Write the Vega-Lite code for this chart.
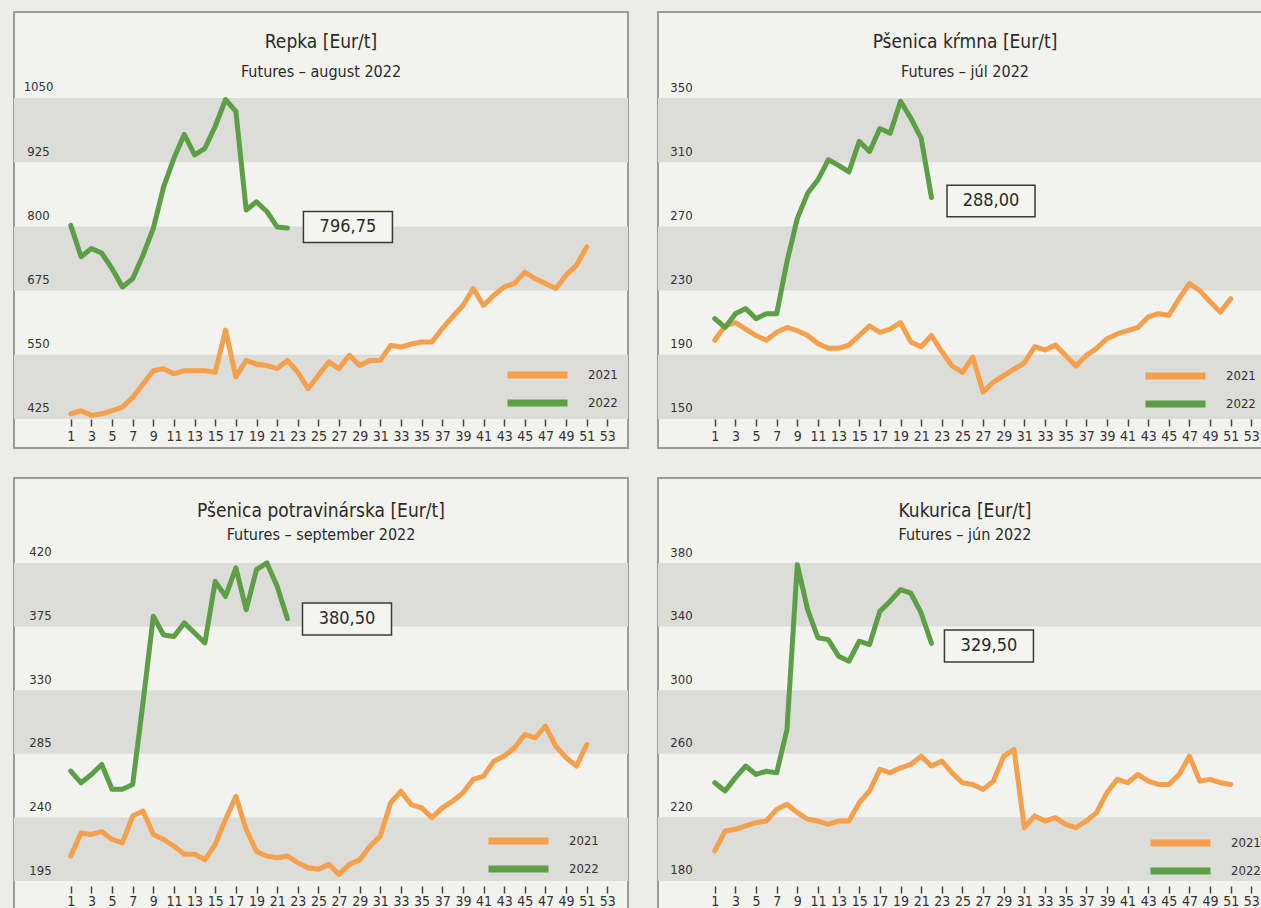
{
  "$schema": "https://vega.github.io/schema/vega-lite/v6.json",
  "background": "#ecece8",
  "padding": {"left": 13, "top": 11, "right": 0, "bottom": 0},
  "config": {
    "font": "Liberation Sans Narrow, DejaVu Sans Condensed, Roboto, sans-serif",
    "title": {"fontSize": 19, "fontWeight": "normal", "color": "#2a2a2a", "subtitleFontSize": 16, "subtitleColor": "#2a2a2a", "subtitleFontWeight": "normal", "anchor": "middle", "frame": "group"},
    "axis": {"labelFontSize": 13, "labelColor": "#333333", "grid": false, "domain": false, "title": null, "labelOverlap": false, "labelFlush": false, "tickCount": 100, "format": "d", "zindex": 1},
    "legend": {"labelFontSize": 13, "labelColor": "#333333", "title": null, "orient": "none", "symbolType": "stroke", "symbolSize": 3600, "symbolStrokeWidth": 7, "clipHeight": 22, "rowPadding": 6, "labelOffset": 17, "padding": 0},
    "view": {"stroke": "#9a9a96", "strokeWidth": 2, "fill": "#f2f2ee"}
  },
  "datasets": {
    "repka": [
      {"week":1,"year":"2021","price":435},{"week":2,"year":"2021","price":441},{"week":3,"year":"2021","price":432},{"week":4,"year":"2021","price":435},{"week":5,"year":"2021","price":441},{"week":6,"year":"2021","price":448},{"week":7,"year":"2021","price":467},{"week":8,"year":"2021","price":493},{"week":9,"year":"2021","price":519},{"week":10,"year":"2021","price":523},
      {"week":11,"year":"2021","price":513},{"week":12,"year":"2021","price":519},{"week":13,"year":"2021","price":519},{"week":14,"year":"2021","price":519},{"week":15,"year":"2021","price":516},{"week":16,"year":"2021","price":598},{"week":17,"year":"2021","price":507},{"week":18,"year":"2021","price":539},{"week":19,"year":"2021","price":532},{"week":20,"year":"2021","price":529},
      {"week":21,"year":"2021","price":523},{"week":22,"year":"2021","price":539},{"week":23,"year":"2021","price":516},{"week":24,"year":"2021","price":484},{"week":25,"year":"2021","price":510},{"week":26,"year":"2021","price":536},{"week":27,"year":"2021","price":523},{"week":28,"year":"2021","price":549},{"week":29,"year":"2021","price":529},{"week":30,"year":"2021","price":539},
      {"week":31,"year":"2021","price":539},{"week":32,"year":"2021","price":568},{"week":33,"year":"2021","price":565},{"week":34,"year":"2021","price":571},{"week":35,"year":"2021","price":575},{"week":36,"year":"2021","price":575},{"week":37,"year":"2021","price":601},{"week":38,"year":"2021","price":624},{"week":39,"year":"2021","price":646},{"week":40,"year":"2021","price":679},
      {"week":41,"year":"2021","price":646},{"week":42,"year":"2021","price":666},{"week":43,"year":"2021","price":682},{"week":44,"year":"2021","price":689},{"week":45,"year":"2021","price":711},{"week":46,"year":"2021","price":698},{"week":47,"year":"2021","price":689},{"week":48,"year":"2021","price":679},{"week":49,"year":"2021","price":705},{"week":50,"year":"2021","price":724},{"week":51,"year":"2021","price":760},
      {"week":1,"year":"2022","price":802},{"week":2,"year":"2022","price":741},{"week":3,"year":"2022","price":757},{"week":4,"year":"2022","price":748},{"week":5,"year":"2022","price":718},{"week":6,"year":"2022","price":682},{"week":7,"year":"2022","price":698},{"week":8,"year":"2022","price":744},{"week":9,"year":"2022","price":796},{"week":10,"year":"2022","price":877},
      {"week":11,"year":"2022","price":933},{"week":12,"year":"2022","price":979},{"week":13,"year":"2022","price":939},{"week":14,"year":"2022","price":952},{"week":15,"year":"2022","price":995},{"week":16,"year":"2022","price":1047},{"week":17,"year":"2022","price":1024},{"week":18,"year":"2022","price":832},{"week":19,"year":"2022","price":848},{"week":20,"year":"2022","price":829},{"week":21,"year":"2022","price":799},{"week":22,"year":"2022","price":796.75}
    ],
    "psenicaKrmna": [
      {"week":1,"year":"2021","price":199},{"week":2,"year":"2021","price":208},{"week":3,"year":"2021","price":210},{"week":4,"year":"2021","price":206},{"week":5,"year":"2021","price":202},{"week":6,"year":"2021","price":199},{"week":7,"year":"2021","price":204},{"week":8,"year":"2021","price":207},{"week":9,"year":"2021","price":205},{"week":10,"year":"2021","price":202},
      {"week":11,"year":"2021","price":197},{"week":12,"year":"2021","price":194},{"week":13,"year":"2021","price":194},{"week":14,"year":"2021","price":196},{"week":15,"year":"2021","price":202},{"week":16,"year":"2021","price":208},{"week":17,"year":"2021","price":204},{"week":18,"year":"2021","price":206},{"week":19,"year":"2021","price":210},{"week":20,"year":"2021","price":198},
      {"week":21,"year":"2021","price":195},{"week":22,"year":"2021","price":202},{"week":23,"year":"2021","price":192},{"week":24,"year":"2021","price":183},{"week":25,"year":"2021","price":179},{"week":26,"year":"2021","price":188.6},{"week":27,"year":"2021","price":166.7},{"week":28,"year":"2021","price":173},{"week":29,"year":"2021","price":177},{"week":30,"year":"2021","price":181},
      {"week":31,"year":"2021","price":185},{"week":32,"year":"2021","price":195},{"week":33,"year":"2021","price":193},{"week":34,"year":"2021","price":196},{"week":35,"year":"2021","price":189.6},{"week":36,"year":"2021","price":183},{"week":37,"year":"2021","price":189.6},{"week":38,"year":"2021","price":194},{"week":39,"year":"2021","price":200},{"week":40,"year":"2021","price":203},
      {"week":41,"year":"2021","price":205},{"week":42,"year":"2021","price":207},{"week":43,"year":"2021","price":213.6},{"week":44,"year":"2021","price":215.6},{"week":45,"year":"2021","price":214.6},{"week":46,"year":"2021","price":225},{"week":47,"year":"2021","price":234.4},{"week":48,"year":"2021","price":230},{"week":49,"year":"2021","price":223},{"week":50,"year":"2021","price":216.7},{"week":51,"year":"2021","price":225},
      {"week":1,"year":"2022","price":212.5},{"week":2,"year":"2022","price":207},{"week":3,"year":"2022","price":215.6},{"week":4,"year":"2022","price":218.8},{"week":5,"year":"2022","price":212.5},{"week":6,"year":"2022","price":215.6},{"week":7,"year":"2022","price":215.6},{"week":8,"year":"2022","price":248},{"week":9,"year":"2022","price":275},{"week":10,"year":"2022","price":290.6},
      {"week":11,"year":"2022","price":299},{"week":12,"year":"2022","price":311.5},{"week":13,"year":"2022","price":308},{"week":14,"year":"2022","price":304},{"week":15,"year":"2022","price":323},{"week":16,"year":"2022","price":316.7},{"week":17,"year":"2022","price":331},{"week":18,"year":"2022","price":328},{"week":19,"year":"2022","price":348},{"week":20,"year":"2022","price":337.5},{"week":21,"year":"2022","price":325},{"week":22,"year":"2022","price":288}
    ],
    "psenicaPotr": [
      {"week":1,"year":"2021","price":212.7},{"week":2,"year":"2021","price":229},{"week":3,"year":"2021","price":228},{"week":4,"year":"2021","price":230},{"week":5,"year":"2021","price":224.4},{"week":6,"year":"2021","price":222},{"week":7,"year":"2021","price":241},{"week":8,"year":"2021","price":244.5},{"week":9,"year":"2021","price":228},{"week":10,"year":"2021","price":224.4},
      {"week":11,"year":"2021","price":219.7},{"week":12,"year":"2021","price":214},{"week":13,"year":"2021","price":214},{"week":14,"year":"2021","price":210},{"week":15,"year":"2021","price":221},{"week":16,"year":"2021","price":238.6},{"week":17,"year":"2021","price":255},{"week":18,"year":"2021","price":231.5},{"week":19,"year":"2021","price":216},{"week":20,"year":"2021","price":212.7},
      {"week":21,"year":"2021","price":211.5},{"week":22,"year":"2021","price":212.7},{"week":23,"year":"2021","price":208},{"week":24,"year":"2021","price":204.4},{"week":25,"year":"2021","price":203.3},{"week":26,"year":"2021","price":206.8},{"week":27,"year":"2021","price":199.7},{"week":28,"year":"2021","price":206.8},{"week":29,"year":"2021","price":210},{"week":30,"year":"2021","price":219.7},
      {"week":31,"year":"2021","price":226.8},{"week":32,"year":"2021","price":250.4},{"week":33,"year":"2021","price":258.6},{"week":34,"year":"2021","price":249},{"week":35,"year":"2021","price":246.8},{"week":36,"year":"2021","price":239.8},{"week":37,"year":"2021","price":246.8},{"week":38,"year":"2021","price":251.5},{"week":39,"year":"2021","price":257.4},{"week":40,"year":"2021","price":266.9},
      {"week":41,"year":"2021","price":269.2},{"week":42,"year":"2021","price":279.8},{"week":43,"year":"2021","price":283.4},{"week":44,"year":"2021","price":289.3},{"week":45,"year":"2021","price":298.7},{"week":46,"year":"2021","price":296.3},{"week":47,"year":"2021","price":304.6},{"week":48,"year":"2021","price":290.4},{"week":49,"year":"2021","price":282.2},{"week":50,"year":"2021","price":276.3},{"week":51,"year":"2021","price":291.6},
      {"week":1,"year":"2022","price":272.7},{"week":2,"year":"2022","price":264.5},{"week":3,"year":"2022","price":270.4},{"week":4,"year":"2022","price":277.5},{"week":5,"year":"2022","price":260},{"week":6,"year":"2022","price":260},{"week":7,"year":"2022","price":263.3},{"week":8,"year":"2022","price":321},{"week":9,"year":"2022","price":382.3},{"week":10,"year":"2022","price":369},
      {"week":11,"year":"2022","price":368},{"week":12,"year":"2022","price":377.6},{"week":13,"year":"2022","price":370.5},{"week":14,"year":"2022","price":363.5},{"week":15,"year":"2022","price":407},{"week":16,"year":"2022","price":396.4},{"week":17,"year":"2022","price":416.5},{"week":18,"year":"2022","price":387},{"week":19,"year":"2022","price":415.3},{"week":20,"year":"2022","price":420},{"week":21,"year":"2022","price":403.5},{"week":22,"year":"2022","price":380.5}
    ],
    "kukurica": [
      {"week":1,"year":"2021","price":198.9},{"week":2,"year":"2021","price":211.4},{"week":3,"year":"2021","price":212.5},{"week":4,"year":"2021","price":214.6},{"week":5,"year":"2021","price":216.7},{"week":6,"year":"2021","price":217.7},{"week":7,"year":"2021","price":225},{"week":8,"year":"2021","price":228.2},{"week":9,"year":"2021","price":223},{"week":10,"year":"2021","price":218.8},
      {"week":11,"year":"2021","price":217.7},{"week":12,"year":"2021","price":215.6},{"week":13,"year":"2021","price":217.7},{"week":14,"year":"2021","price":217.7},{"week":15,"year":"2021","price":229.2},{"week":16,"year":"2021","price":236.6},{"week":17,"year":"2021","price":250.2},{"week":18,"year":"2021","price":248},{"week":19,"year":"2021","price":251.2},{"week":20,"year":"2021","price":253.3},
      {"week":21,"year":"2021","price":258.5},{"week":22,"year":"2021","price":252.3},{"week":23,"year":"2021","price":255.4},{"week":24,"year":"2021","price":248},{"week":25,"year":"2021","price":241.8},{"week":26,"year":"2021","price":240.7},{"week":27,"year":"2021","price":237.6},{"week":28,"year":"2021","price":242.8},{"week":29,"year":"2021","price":258.5},{"week":30,"year":"2021","price":262.7},
      {"week":31,"year":"2021","price":213.5},{"week":32,"year":"2021","price":220.9},{"week":33,"year":"2021","price":217.7},{"week":34,"year":"2021","price":219.8},{"week":35,"year":"2021","price":215.6},{"week":36,"year":"2021","price":213.5},{"week":37,"year":"2021","price":217.7},{"week":38,"year":"2021","price":223},{"week":39,"year":"2021","price":235.5},{"week":40,"year":"2021","price":243.9},
      {"week":41,"year":"2021","price":241.8},{"week":42,"year":"2021","price":247},{"week":43,"year":"2021","price":242.8},{"week":44,"year":"2021","price":240.7},{"week":45,"year":"2021","price":240.7},{"week":46,"year":"2021","price":247},{"week":47,"year":"2021","price":258.5},{"week":48,"year":"2021","price":242.8},{"week":49,"year":"2021","price":243.9},{"week":50,"year":"2021","price":241.8},{"week":51,"year":"2021","price":240.7},
      {"week":1,"year":"2022","price":241.8},{"week":2,"year":"2022","price":236.6},{"week":3,"year":"2022","price":245},{"week":4,"year":"2022","price":252.3},{"week":5,"year":"2022","price":247},{"week":6,"year":"2022","price":249},{"week":7,"year":"2022","price":248},{"week":8,"year":"2022","price":275.3},{"week":9,"year":"2022","price":379},{"week":10,"year":"2022","price":350.7},
      {"week":11,"year":"2022","price":333},{"week":12,"year":"2022","price":331.8},{"week":13,"year":"2022","price":321.4},{"week":14,"year":"2022","price":318.2},{"week":15,"year":"2022","price":330.8},{"week":16,"year":"2022","price":328.7},{"week":17,"year":"2022","price":349.6},{"week":18,"year":"2022","price":356},{"week":19,"year":"2022","price":363.2},{"week":20,"year":"2022","price":361},{"week":21,"year":"2022","price":348.6},{"week":22,"year":"2022","price":329.5}
    ]
  },
  "spacing": 28,
  "resolve": {"scale": {"color": "independent"}, "legend": {"color": "independent"}},
  "vconcat": [
    {
      "spacing": 28,
      "resolve": {"scale": {"color": "independent"}, "legend": {"color": "independent"}},
      "hconcat": [
        {
          "width": 614, "height": 436,
          "title": {"text": "Repka [Eur/t]", "subtitle": "Futures – august 2022", "offset": -68, "subtitlePadding": 12},
          "layer": [
            {"data": {"values": [{"lo": 925, "hi": 1050}, {"lo": 675, "hi": 800}, {"lo": 425, "hi": 550}]},
             "mark": {"type": "rect", "color": "#dcdcd8"},
             "encoding": {"y": {"field": "lo", "type": "quantitative", "scale": {"domain": [368.5, 1217.4], "nice": false, "zero": false}}, "y2": {"field": "hi"}}},
            {"data": {"name": "repka"},
             "mark": {"type": "line", "strokeWidth": 5, "strokeJoin": "round", "strokeCap": "round"},
             "encoding": {
               "x": {"field": "week", "type": "quantitative", "scale": {"domain": [-4.5, 55], "nice": false, "zero": false},
                     "axis": {"values": [1,3,5,7,9,11,13,15,17,19,21,23,25,27,29,31,33,35,37,39,41,43,45,47,49,51,53], "tickCount": 100, "format": "d", "zindex": 1, "offset": -29, "tickSize": 7, "tickColor": "#444444", "tickWidth": 1.5, "labelPadding": 3, "labelFontSize": 14, "labelOverlap": false, "labelFlush": false}},
               "y": {"field": "price", "type": "quantitative", "scale": {"domain": [368.5, 1217.4], "nice": false, "zero": false},
                     "axis": {"values": [425, 550, 675, 800, 925, 1050], "tickCount": 100, "format": "d", "zindex": 1, "offset": -24, "ticks": false, "tickSize": 0, "labelPadding": 0, "labelAlign": "center", "labelBaseline": "middle", "labelOffset": -11, "labelOverlap": false}},
               "color": {"field": "year", "type": "nominal", "scale": {"domain": ["2021", "2022"], "range": ["#f5a04c", "#5c9f47"]}, "legend": {"legendX": 490, "legendY": 352, "labelFontSize": 13}}
             }},
            {"data": {"values": [{"week": 27.86, "price": 798.8, "label": "796,75"}]},
             "mark": {"type": "point", "shape": "M-1,-0.35H1V0.35H-1Z", "size": 7921, "filled": true, "fill": "#f4f4f0", "stroke": "#3a3a3a", "strokeWidth": 1.5, "opacity": 1},
             "encoding": {"x": {"field": "week", "type": "quantitative"}, "y": {"field": "price", "type": "quantitative"}}},
            {"data": {"values": [{"week": 27.86, "price": 798.8, "label": "796,75"}]},
             "mark": {"type": "text", "fontSize": 18, "color": "#2a2a2a", "align": "center", "baseline": "middle"},
             "encoding": {"x": {"field": "week", "type": "quantitative"}, "y": {"field": "price", "type": "quantitative"}, "text": {"field": "label"}}}
          ]
        },
        {
          "width": 614, "height": 436,
          "title": {"text": "Pšenica kŕmna [Eur/t]", "subtitle": "Futures – júl 2022", "offset": -68, "subtitlePadding": 12},
          "layer": [
            {"data": {"values": [{"lo": 310, "hi": 350}, {"lo": 230, "hi": 270}, {"lo": 150, "hi": 190}]},
             "mark": {"type": "rect", "color": "#dcdcd8"},
             "encoding": {"y": {"field": "lo", "type": "quantitative", "scale": {"domain": [131.9, 403.6], "nice": false, "zero": false}}, "y2": {"field": "hi"}}},
            {"data": {"name": "psenicaKrmna"},
             "mark": {"type": "line", "strokeWidth": 5, "strokeJoin": "round", "strokeCap": "round"},
             "encoding": {
               "x": {"field": "week", "type": "quantitative", "scale": {"domain": [-4.5, 55], "nice": false, "zero": false},
                     "axis": {"values": [1,3,5,7,9,11,13,15,17,19,21,23,25,27,29,31,33,35,37,39,41,43,45,47,49,51,53], "tickCount": 100, "format": "d", "zindex": 1, "offset": -29, "tickSize": 7, "tickColor": "#444444", "tickWidth": 1.5, "labelPadding": 3, "labelFontSize": 14, "labelOverlap": false, "labelFlush": false}},
               "y": {"field": "price", "type": "quantitative", "scale": {"domain": [131.9, 403.6], "nice": false, "zero": false},
                     "axis": {"values": [150, 190, 230, 270, 310, 350], "tickCount": 100, "format": "d", "zindex": 1, "offset": -23, "ticks": false, "tickSize": 0, "labelPadding": 0, "labelAlign": "center", "labelBaseline": "middle", "labelOffset": -11, "labelOverlap": false}},
               "color": {"field": "year", "type": "nominal", "scale": {"domain": ["2021", "2022"], "range": ["#f5a04c", "#5c9f47"]}, "legend": {"legendX": 484, "legendY": 353, "labelFontSize": 13}}
             }},
            {"data": {"values": [{"week": 27.77, "price": 285.8, "label": "288,00"}]},
             "mark": {"type": "point", "shape": "M-1,-0.36H1V0.36H-1Z", "size": 7744, "filled": true, "fill": "#f4f4f0", "stroke": "#3a3a3a", "strokeWidth": 1.5, "opacity": 1},
             "encoding": {"x": {"field": "week", "type": "quantitative"}, "y": {"field": "price", "type": "quantitative"}}},
            {"data": {"values": [{"week": 27.77, "price": 285.8, "label": "288,00"}]},
             "mark": {"type": "text", "fontSize": 18, "color": "#2a2a2a", "align": "center", "baseline": "middle"},
             "encoding": {"x": {"field": "week", "type": "quantitative"}, "y": {"field": "price", "type": "quantitative"}, "text": {"field": "label"}}}
          ]
        }
      ]
    },
    {
      "spacing": 28,
      "resolve": {"scale": {"color": "independent"}, "legend": {"color": "independent"}},
      "hconcat": [
        {
          "width": 614, "height": 436,
          "title": {"text": "Pšenica potravinárska [Eur/t]", "subtitle": "Futures – september 2022", "offset": -65, "subtitlePadding": 6},
          "layer": [
            {"data": {"values": [{"lo": 375, "hi": 420}, {"lo": 285, "hi": 330}, {"lo": 195, "hi": 240}]},
             "mark": {"type": "rect", "color": "#dcdcd8"},
             "encoding": {"y": {"field": "lo", "type": "quantitative", "scale": {"domain": [171.7, 480.1], "nice": false, "zero": false}}, "y2": {"field": "hi"}}},
            {"data": {"name": "psenicaPotr"},
             "mark": {"type": "line", "strokeWidth": 5, "strokeJoin": "round", "strokeCap": "round"},
             "encoding": {
               "x": {"field": "week", "type": "quantitative", "scale": {"domain": [-4.5, 55], "nice": false, "zero": false},
                     "axis": {"values": [1,3,5,7,9,11,13,15,17,19,21,23,25,27,29,31,33,35,37,39,41,43,45,47,49,51,53], "tickCount": 100, "format": "d", "zindex": 1, "offset": -28, "tickSize": 7, "tickColor": "#444444", "tickWidth": 1.5, "labelPadding": 1, "labelFontSize": 14, "labelOverlap": false, "labelFlush": false}},
               "y": {"field": "price", "type": "quantitative", "scale": {"domain": [171.7, 480.1], "nice": false, "zero": false},
                     "axis": {"values": [195, 240, 285, 330, 375, 420], "tickCount": 100, "format": "d", "zindex": 1, "offset": -26, "ticks": false, "tickSize": 0, "labelPadding": 0, "labelAlign": "center", "labelBaseline": "middle", "labelOffset": -11, "labelOverlap": false}},
               "color": {"field": "year", "type": "nominal", "scale": {"domain": ["2021", "2022"], "range": ["#f5a04c", "#5c9f47"]}, "legend": {"legendX": 471, "legendY": 352, "labelFontSize": 13}}
             }},
            {"data": {"values": [{"week": 27.77, "price": 380.4, "label": "380,50"}]},
             "mark": {"type": "point", "shape": "M-1,-0.36H1V0.36H-1Z", "size": 7921, "filled": true, "fill": "#f4f4f0", "stroke": "#3a3a3a", "strokeWidth": 1.5, "opacity": 1},
             "encoding": {"x": {"field": "week", "type": "quantitative"}, "y": {"field": "price", "type": "quantitative"}}},
            {"data": {"values": [{"week": 27.77, "price": 380.4, "label": "380,50"}]},
             "mark": {"type": "text", "fontSize": 18, "color": "#2a2a2a", "align": "center", "baseline": "middle"},
             "encoding": {"x": {"field": "week", "type": "quantitative"}, "y": {"field": "price", "type": "quantitative"}, "text": {"field": "label"}}}
          ]
        },
        {
          "width": 614, "height": 436,
          "title": {"text": "Kukurica [Eur/t]", "subtitle": "Futures – jún 2022", "offset": -65, "subtitlePadding": 6},
          "layer": [
            {"data": {"values": [{"lo": 340, "hi": 380}, {"lo": 260, "hi": 300}, {"lo": 180, "hi": 220}]},
             "mark": {"type": "rect", "color": "#dcdcd8"},
             "encoding": {"y": {"field": "lo", "type": "quantitative", "scale": {"domain": [159.2, 433.5], "nice": false, "zero": false}}, "y2": {"field": "hi"}}},
            {"data": {"name": "kukurica"},
             "mark": {"type": "line", "strokeWidth": 5, "strokeJoin": "round", "strokeCap": "round"},
             "encoding": {
               "x": {"field": "week", "type": "quantitative", "scale": {"domain": [-4.5, 55], "nice": false, "zero": false},
                     "axis": {"values": [1,3,5,7,9,11,13,15,17,19,21,23,25,27,29,31,33,35,37,39,41,43,45,47,49,51,53], "tickCount": 100, "format": "d", "zindex": 1, "offset": -28, "tickSize": 7, "tickColor": "#444444", "tickWidth": 1.5, "labelPadding": 1, "labelFontSize": 14, "labelOverlap": false, "labelFlush": false}},
               "y": {"field": "price", "type": "quantitative", "scale": {"domain": [159.2, 433.5], "nice": false, "zero": false},
                     "axis": {"values": [180, 220, 260, 300, 340, 380], "tickCount": 100, "format": "d", "zindex": 1, "offset": -23, "ticks": false, "tickSize": 0, "labelPadding": 0, "labelAlign": "center", "labelBaseline": "middle", "labelOffset": -11, "labelOverlap": false}},
               "color": {"field": "year", "type": "nominal", "scale": {"domain": ["2021", "2022"], "range": ["#f5a04c", "#5c9f47"]}, "legend": {"legendX": 489, "legendY": 354, "labelFontSize": 13}}
             }},
            {"data": {"values": [{"week": 27.57, "price": 327.8, "label": "329,50"}]},
             "mark": {"type": "point", "shape": "M-1,-0.36H1V0.36H-1Z", "size": 7921, "filled": true, "fill": "#f4f4f0", "stroke": "#3a3a3a", "strokeWidth": 1.5, "opacity": 1},
             "encoding": {"x": {"field": "week", "type": "quantitative"}, "y": {"field": "price", "type": "quantitative"}}},
            {"data": {"values": [{"week": 27.57, "price": 327.8, "label": "329,50"}]},
             "mark": {"type": "text", "fontSize": 18, "color": "#2a2a2a", "align": "center", "baseline": "middle"},
             "encoding": {"x": {"field": "week", "type": "quantitative"}, "y": {"field": "price", "type": "quantitative"}, "text": {"field": "label"}}}
          ]
        }
      ]
    }
  ]
}
